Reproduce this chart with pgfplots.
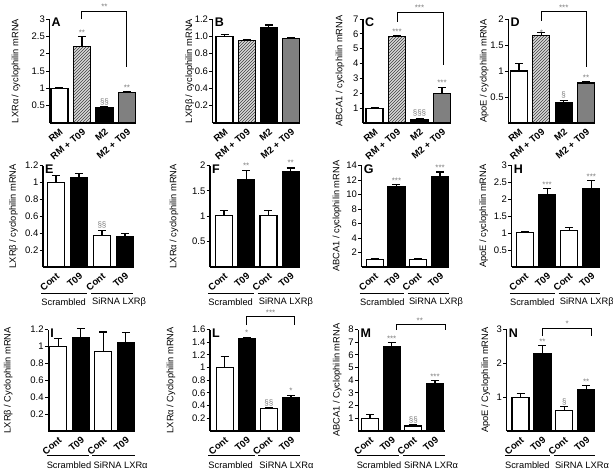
\documentclass[border=0pt]{standalone}
\usepackage{pgfplots}
\pgfplotsset{compat=1.18}
\usepackage{fontspec}
\setmainfont{Liberation Sans}
\usetikzlibrary{patterns}
\definecolor{siggray}{gray}{0.5}
\definecolor{bargray}{gray}{0.5}
\pgfplotsset{
 panel/.style={
  scale only axis, anchor=south west,
  ybar, bar shift=0pt, bar width=17pt,
  ymin=0, enlargelimits=false,
  axis lines=left, axis line style={-, line width=1.2pt},
  tick align=outside, major tick length=3.5pt,
  ytick style={line width=1pt, black},
  xtick style={draw=none},
  xtick={1,2,3,4},
  /pgf/number format/assume math mode=true,
  yticklabel style={font=\fontsize{9.5}{9.5}\selectfont, inner sep=1pt},
  xticklabel style={font=\fontsize{9.5}{9.5}\selectfont\bfseries, rotate=40, anchor=north east, inner sep=1pt},
  every axis y label/.style={rotate=90, anchor=center, font=\fontsize{9.3}{9.3}\selectfont},
  clip=false,
 },
 eb/.style={error bars/.cd, y dir=plus, y explicit,
   error bar style={line width=1.2pt, black},
   error mark options={line width=1.2pt, black, mark size=4pt, rotate=90}},
 wb/.style={draw=black, line width=1.2pt, fill=white, eb},
 hb/.style={draw=black, line width=1.2pt, fill=gray!30, postaction={pattern=north east lines, pattern color=black!75}, eb},
 kb/.style={draw=black, line width=1.2pt, fill=black, eb},
 gb/.style={draw=black, line width=1.2pt, fill=bargray, eb},
}
\tikzset{sigs/.style={font=\fontsize{8}{8}\selectfont, text=siggray, anchor=south, inner sep=1pt},
 plet/.style={font=\fontsize{12.5}{12.5}\selectfont\bfseries, anchor=north west, inner sep=0pt}}
\newcommand{\ylab}[1]{ylabel style={at={([xshift=#1pt]rel axis cs:0,0.5)}}}
\newcommand{\letter}[1]{\node[plet] at ([xshift=2pt,yshift=1pt]rel axis cs:0,1) {#1};}
\newcommand{\groups}[3]{%
 \draw[line width=0.8pt] ([yshift=-#2pt]rel axis cs:-0.02,0) -- ([yshift=-#2pt]axis cs:2.35,0);
 \draw[line width=0.8pt] ([yshift=-#2pt]axis cs:2.52,0) -- ([yshift=-#2pt]rel axis cs:1,0);
 \node[font=\fontsize{9.3}{9.3}\selectfont, anchor=west, inner sep=0pt] at ([yshift=-#3pt]rel axis cs:-0.02,0) {Scrambled};
 \node[font=\fontsize{9.3}{9.3}\selectfont, anchor=west, inner sep=0pt] at ([yshift=-#3pt,xshift=1pt]axis cs:2.52,0) {#1};}
\begin{document}
\begin{tikzpicture}
\path[use as bounding box, fill=white] (0,0) rectangle (613pt,475pt);
% ---------- Row 1 ----------
\begin{axis}[panel, at={(49.5pt,352pt)}, width=86.5pt, height=104pt, xmin=0.556, xmax=4.4, ymax=3,
  ytick={0.5,1,1.5,2,2.5,3}, xticklabels={RM,RM + T09,M2,M2 + T09},
  ylabel={LXRα / cyclophilin mRNA}, \ylab{-33.5}]
\addplot[wb] coordinates {(1,1.0) +- (0,0.03)};
\addplot[hb] coordinates {(2,2.2) +- (0,0.3)};
\addplot[kb] coordinates {(3,0.45) +- (0,0.02)};
\addplot[gb] coordinates {(4,0.88) +- (0,0.02)};
\node[sigs] at (axis cs:2,2.5) {**};
\node[sigs] at (axis cs:3,0.49) {§§};
\node[sigs] at (axis cs:4,0.9) {**};
\draw[line width=1pt] (axis cs:2,3.0) |- (axis cs:4,3.23) -- (axis cs:4,1.62);
\node[sigs] at (axis cs:3,3.23) {**};
\letter{A}
\end{axis}
\begin{axis}[panel, at={(212.7pt,352pt)}, width=86.8pt, height=104pt, xmin=0.468, xmax=4.38, ymax=1.2,
  ytick={0.2,0.4,0.6,0.8,1.0,1.2}, yticklabel style={/pgf/number format/.cd, fixed, fixed zerofill, precision=1},
  xticklabels={RM,RM + T09,M2,M2 + T09},
  ylabel={LXRβ / cyclophilin mRNA}, \ylab{-23}]
\addplot[wb] coordinates {(1,1.0) +- (0,0.02)};
\addplot[hb] coordinates {(2,0.955) +- (0,0.01)};
\addplot[kb] coordinates {(3,1.1) +- (0,0.03)};
\addplot[gb] coordinates {(4,0.975) +- (0,0.01)};
\letter{B}
\end{axis}
\begin{axis}[panel, at={(363pt,352pt)}, width=88pt, height=104pt, xmin=0.489, xmax=4.4, ymax=7,
  ytick={1,2,3,4,5,6,7}, xticklabels={RM,RM + T09,M2,M2 + T09},
  ylabel={ABCA1 / cyclophilin mRNA}, \ylab{-23}]
\addplot[wb] coordinates {(1,1.0) +- (0,0.05)};
\addplot[hb] coordinates {(2,5.8) +- (0,0.07)};
\addplot[kb] coordinates {(3,0.22) +- (0,0.08)};
\addplot[gb] coordinates {(4,2.0) +- (0,0.38)};
\node[sigs] at (axis cs:2,5.9) {***};
\node[sigs] at (axis cs:3,0.35) {§§§};
\node[sigs] at (axis cs:4,2.42) {***};
\draw[line width=1pt] (axis cs:2,6.82) |- (axis cs:4.05,7.47) -- (axis cs:4.05,3.9);
\node[sigs] at (axis cs:3,7.47) {***};
\letter{C}
\end{axis}
\begin{axis}[panel, at={(508.3pt,352pt)}, width=86.7pt, height=104pt, xmin=0.52, xmax=4.4, ymax=2,
  ytick={0.5,1,1.5,2}, xticklabels={RM,RM + T09,M2,M2 + T09},
  ylabel={ApoE / cyclophilin mRNA}, \ylab{-24}]
\addplot[wb] coordinates {(1,1.0) +- (0,0.14)};
\addplot[hb] coordinates {(2,1.68) +- (0,0.06)};
\addplot[kb] coordinates {(3,0.4) +- (0,0.04)};
\addplot[gb] coordinates {(4,0.77) +- (0,0.02)};
\node[sigs] at (axis cs:2,1.66) {*};
\node[sigs] at (axis cs:3,0.46) {§};
\node[sigs] at (axis cs:4,0.8) {**};
\draw[line width=1pt] (axis cs:2,1.97) |- (axis cs:4.03,2.15) -- (axis cs:4.03,1.08);
\node[sigs] at (axis cs:3,2.15) {***};
\letter{D}
\end{axis}
% ---------- Row 2 ----------
\begin{axis}[panel, at={(43pt,208pt)}, width=90pt, height=101.5pt, xmin=0.435, xmax=4.35, ymax=1.2,
  ytick={0.2,0.4,0.6,0.8,1,1.2}, xticklabels={Cont,T09,Cont,T09},
  ylabel={LXRβ / cyclophilin mRNA}, \ylab{-29.5}]
\addplot[wb] coordinates {(1,1.0) +- (0,0.08)};
\addplot[kb] coordinates {(2,1.06) +- (0,0.05)};
\addplot[wb] coordinates {(3,0.37) +- (0,0.06)};
\addplot[kb] coordinates {(4,0.36) +- (0,0.04)};
\node[sigs] at (axis cs:3,0.45) {§§};
\groups{SiRNA LXRβ}{26.5}{35}
\letter{E}
\end{axis}
\begin{axis}[panel, at={(210pt,208pt)}, width=89.5pt, height=101.5pt, xmin=0.368, xmax=4.4, ymax=2,
  ytick={0.5,1,1.5,2}, xticklabels={Cont,T09,Cont,T09},
  ylabel={LXRα / cyclophilin mRNA}, \ylab{-36}]
\addplot[wb] coordinates {(1,1.01) +- (0,0.1)};
\addplot[kb] coordinates {(2,1.72) +- (0,0.18)};
\addplot[wb] coordinates {(3,1.02) +- (0,0.1)};
\addplot[kb] coordinates {(4,1.88) +- (0,0.07)};
\node[sigs] at (axis cs:2,1.92) {**};
\node[sigs] at (axis cs:4,1.97) {**};
\groups{SiRNA LXRβ}{26.5}{35}
\letter{F}
\end{axis}
\begin{axis}[panel, at={(361.7pt,208pt)}, width=87.3pt, height=101.5pt, xmin=0.403, xmax=4.41, ymax=14,
  ytick={2,4,6,8,10,12,14}, xticklabels={Cont,T09,Cont,T09},
  ylabel={ABCA1 / cyclophilin mRNA}, \ylab{-24.7}]
\addplot[wb] coordinates {(1,1.0) +- (0,0.1)};
\addplot[kb] coordinates {(2,11.1) +- (0,0.3)};
\addplot[wb] coordinates {(3,1.0) +- (0,0.15)};
\addplot[kb] coordinates {(4,12.5) +- (0,0.6)};
\node[sigs] at (axis cs:2,11.4) {***};
\node[sigs] at (axis cs:4,13.1) {***};
\groups{SiRNA LXRβ}{26.5}{35}
\letter{G}
\end{axis}
\begin{axis}[panel, at={(511.7pt,208pt)}, width=88.3pt, height=101.5pt, xmin=0.398, xmax=4.39, ymax=3,
  ytick={0.5,1,1.5,2,2.5,3}, xticklabels={Cont,T09,Cont,T09},
  ylabel={ApoE / cyclophilin mRNA}, \ylab{-28}]
\addplot[wb] coordinates {(1,1.02) +- (0,0.03)};
\addplot[kb] coordinates {(2,2.15) +- (0,0.17)};
\addplot[wb] coordinates {(3,1.08) +- (0,0.08)};
\addplot[kb] coordinates {(4,2.33) +- (0,0.22)};
\node[sigs] at (axis cs:2,2.32) {***};
\node[sigs] at (axis cs:4,2.55) {***};
\groups{SiRNA LXRβ}{26.5}{35}
\letter{H}
\end{axis}
% ---------- Row 3 ----------
\begin{axis}[panel, at={(48.3pt,44pt)}, width=86.7pt, height=101.5pt, xmin=0.556, xmax=4.41, ymax=1.2,
  ytick={0.2,0.4,0.6,0.8,1,1.2}, xticklabels={Cont,T09,Cont,T09},
  ylabel={LXRβ / Cyclophilin mRNA}, \ylab{-40}]
\addplot[wb] coordinates {(1,1.0) +- (0,0.09)};
\addplot[kb] coordinates {(2,1.1) +- (0,0.11)};
\addplot[wb] coordinates {(3,0.94) +- (0,0.23)};
\addplot[kb] coordinates {(4,1.04) +- (0,0.12)};
\groups{SiRNA LXRα}{24}{34}
\letter{I}
\end{axis}
\begin{axis}[panel, at={(210pt,44pt)}, width=89.5pt, height=101.5pt, xmin=0.335, xmax=4.385, ymax=1.6,
  ytick={0.2,0.4,0.6,0.8,1,1.2,1.4,1.6}, xticklabels={Cont,T09,Cont,T09},
  ylabel={LXRα / Cyclophilin mRNA}, \ylab{-39}]
\addplot[wb] coordinates {(1,1.0) +- (0,0.18)};
\addplot[kb] coordinates {(2,1.45) +- (0,0.03)};
\addplot[wb] coordinates {(3,0.35) +- (0,0.02)};
\addplot[kb] coordinates {(4,0.53) +- (0,0.03)};
\node[sigs] at (axis cs:2,1.49) {*};
\node[sigs] at (axis cs:3,0.38) {§§};
\node[sigs] at (axis cs:4,0.57) {*};
\draw[line width=1pt] (axis cs:2,1.67) |- (axis cs:4.15,1.80) -- (axis cs:4.15,1.67);
\node[sigs] at (axis cs:3.08,1.80) {***};
\groups{SiRNA LXRα}{24}{34}
\letter{L}
\end{axis}
\begin{axis}[panel, at={(358.3pt,44pt)}, width=86.7pt, height=101.5pt, xmin=0.46, xmax=4.46, ymax=8,
  ytick={1,2,3,4,5,6,7,8}, xticklabels={Cont,T09,Cont,T09},
  ylabel={ABCA1 / Cyclophilin mRNA}, \ylab{-21}]
\addplot[wb] coordinates {(1,1.0) +- (0,0.3)};
\addplot[kb] coordinates {(2,6.65) +- (0,0.32)};
\addplot[wb] coordinates {(3,0.4) +- (0,0.12)};
\addplot[kb] coordinates {(4,3.7) +- (0,0.25)};
\node[sigs] at (axis cs:2,6.97) {***};
\node[sigs] at (axis cs:3,0.52) {§§};
\node[sigs] at (axis cs:4,3.95) {***};
\draw[line width=1pt] (axis cs:2.23,7.96) |- (axis cs:4.46,8.41) -- (axis cs:4.46,7.96);
\node[sigs] at (axis cs:3.3,8.41) {**};
\groups{SiRNA LXRα}{24}{34}
\letter{M}
\end{axis}
\begin{axis}[panel, at={(506.7pt,44pt)}, width=88.3pt, height=101.5pt, xmin=0.37, xmax=4.4, ymax=3,
  ytick={1,2,3}, xticklabels={Cont,T09,Cont,T09},
  ylabel={ApoE / Cyclophilin mRNA}, \ylab{-21}]
\addplot[wb] coordinates {(1,1.0) +- (0,0.1)};
\addplot[kb] coordinates {(2,2.3) +- (0,0.23)};
\addplot[wb] coordinates {(3,0.6) +- (0,0.13)};
\addplot[kb] coordinates {(4,1.22) +- (0,0.12)};
\node[sigs] at (axis cs:2,2.53) {**};
\node[sigs] at (axis cs:3,0.73) {§};
\node[sigs] at (axis cs:4,1.34) {**};
\draw[line width=1pt] (axis cs:2.01,2.82) |- (axis cs:4.25,3.04) -- (axis cs:4.25,2.82);
\node[sigs] at (axis cs:3.13,3.04) {*};
\groups{SiRNA LXRα}{24}{34}
\letter{N}
\end{axis}
\end{tikzpicture}
\end{document}
